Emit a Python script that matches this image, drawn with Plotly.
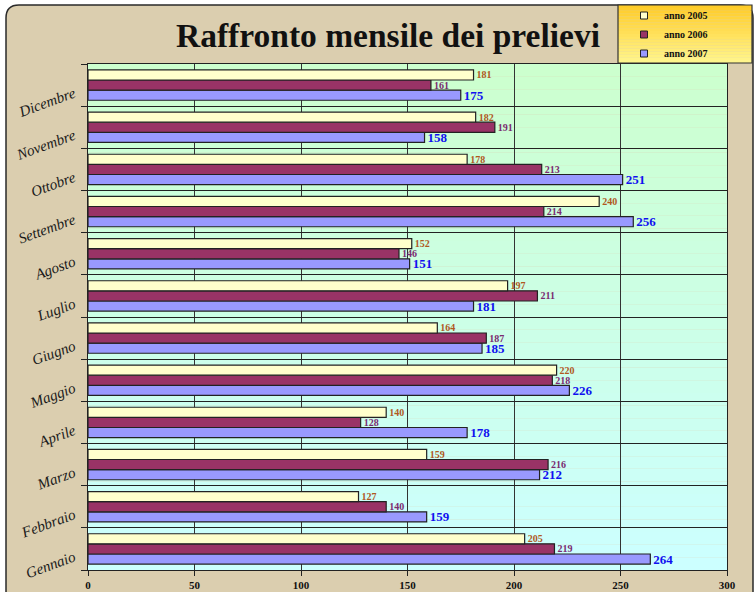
import plotly.graph_objects as go

months = ["Gennaio", "Febbraio", "Marzo", "Aprile", "Maggio", "Giugno",
          "Luglio", "Agosto", "Settembre", "Ottobre", "Novembre", "Dicembre"]
anno_2005 = [205, 127, 159, 140, 220, 164, 197, 152, 240, 178, 182, 181]
anno_2006 = [219, 140, 216, 128, 218, 187, 211, 146, 214, 213, 191, 161]
anno_2007 = [264, 159, 212, 178, 226, 185, 181, 151, 256, 251, 158, 175]
x_ticks = [0, 50, 100, 150, 200, 250, 300]

W, H = 755, 592
ML, MR, MT, MB = 88, 28, 64, 22
PW, PH = W - ML - MR, H - MT - MB


def px(x):
    return (x - ML) / PW


def py(y):
    return (H - MB - y) / PH


serif = "Liberation Serif"

fig = go.Figure()
series = [
    ("anno 2007", anno_2007, "#9999FF", "#1010F0", 13),
    ("anno 2006", anno_2006, "#993366", "#7A2A70", 10),
    ("anno 2005", anno_2005, "#FFFFCC", "#B0581E", 10),
]
for name, vals, col, tcol, tsz in series:
    fig.add_trace(go.Bar(
        y=months, x=vals, name=name, orientation="h", showlegend=False,
        marker=dict(color=col, line=dict(color="#222222", width=1.2)),
        text=vals, textposition="outside", cliponaxis=False,
        constraintext="none", hoverinfo="skip",
        textfont=dict(family=serif, size=tsz, color=tcol, weight="bold"),
    ))
# legend entries with small square symbols
for name, vals, col, tcol, tsz in reversed(series):
    fig.add_trace(go.Scatter(
        x=[None], y=[None], mode="markers", name=name,
        marker=dict(symbol="square", size=7, color=col,
                    line=dict(color="#222222", width=1)),
    ))

shapes = []
# outer rounded frame
x0, x1, y0, y1, r = 6, 753, 5, 640, 13
path = (f"M {px(x0)} {py(y0 + r)} Q {px(x0)} {py(y0)} {px(x0 + r)} {py(y0)} "
        f"L {px(x1 - r)} {py(y0)} Q {px(x1)} {py(y0)} {px(x1)} {py(y0 + r)} "
        f"L {px(x1)} {py(y1)} L {px(x0)} {py(y1)} Z")
shapes.append(dict(type="path", xref="paper", yref="paper", path=path,
                   fillcolor="#DBCEAF", line=dict(color="#2a2a2a", width=1.5),
                   layer="below"))
# plot background gradient
n = 40
c_top = (204, 255, 206)
c_bot = (204, 255, 255)
for i in range(n):
    t = i / (n - 1)
    c = tuple(round(c_top[k] + (c_bot[k] - c_top[k]) * t) for k in range(3))
    shapes.append(dict(type="rect", xref="x domain", yref="y domain",
                       x0=0, x1=1, y0=1 - (i + 1) / n, y1=1 - i / n,
                       fillcolor=f"rgb{c}", line=dict(width=0), layer="below"))
# legend box gradient
lx0, lx1, ly0, ly1 = 618, 752, 5, 63
m = 20
l_top = (255, 204, 40)
l_bot = (255, 245, 140)
for i in range(m):
    t = i / (m - 1)
    c = tuple(round(l_top[k] + (l_bot[k] - l_top[k]) * t) for k in range(3))
    ya = ly0 + (ly1 - ly0) * i / m
    yb = ly0 + (ly1 - ly0) * (i + 1) / m
    shapes.append(dict(type="rect", xref="paper", yref="paper",
                       x0=px(lx0), x1=px(lx1), y0=py(yb), y1=py(ya),
                       fillcolor=f"rgb{c}", line=dict(width=0), layer="above"))
shapes.append(dict(type="rect", xref="paper", yref="paper",
                   x0=px(lx0), x1=px(lx1), y0=py(ly1), y1=py(ly0),
                   fillcolor="rgba(0,0,0,0)", line=dict(color="#333333", width=1.2),
                   layer="above"))

fig.update_layout(
    width=W, height=H,
    margin=dict(l=ML, r=MR, t=MT, b=MB, autoexpand=False),
    paper_bgcolor="white",
    plot_bgcolor="rgba(0,0,0,0)",
    barmode="group", bargap=0.28, bargroupgap=0,
    shapes=shapes,
    title=dict(text="Raffronto mensile dei prelievi", xref="container",
               x=388 / W, xanchor="center", y=1 - 35 / H, yanchor="middle",
               font=dict(family=serif, size=33.5, color="#111111", weight="bold")),
    legend=dict(xref="container", yref="container",
                x=624 / W, xanchor="left",
                y=1 - 1 / H, yanchor="top", bgcolor="rgba(0,0,0,0)",
                font=dict(family=serif, size=10, color="#111111", weight="bold"),
                itemwidth=30, tracegroupgap=0, traceorder="normal"),
    xaxis=dict(range=[0, 300], tickvals=x_ticks, ticks="outside", ticklen=5,
               tickcolor="#222222", showgrid=True, gridcolor="#333333",
               gridwidth=1, showline=True, linecolor="#222222", mirror=True,
               zeroline=False, automargin=False,
               tickfont=dict(family=serif, size=11, color="#111111", weight="bold")),
    yaxis=dict(type="category", categoryorder="array", categoryarray=months,
               tickson="boundaries", ticks="outside", ticklen=6,
               tickcolor="#222222", showgrid=True, gridcolor="#222222",
               gridwidth=1, showline=True, linecolor="#222222", mirror=True,
               tickangle=-20, automargin=False,
               ticklabelstandoff=10, ticklabelshift=7,
               tickfont=dict(family=serif, size=15, color="#1a1a1a",
                             style="italic")),
    showlegend=True,
    hovermode=False,
)

fig.write_html("out.html",
               config={"displayModeBar": False},
               post_script="document.body.style.margin='0';"
                           "document.body.style.overflow='hidden';")
